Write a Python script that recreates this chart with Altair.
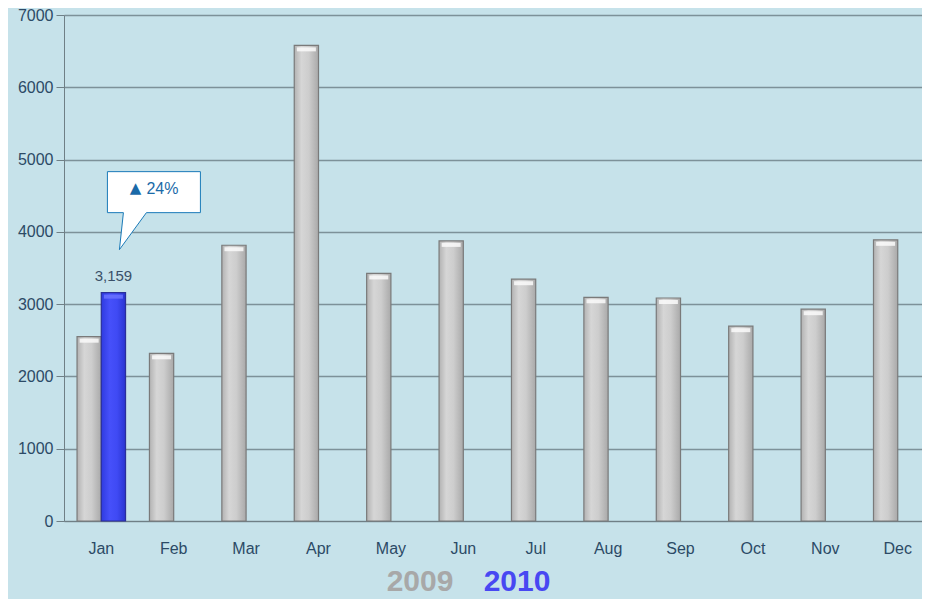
import altair as alt
import pandas as pd

months = ["Jan", "Feb", "Mar", "Apr", "May", "Jun", "Jul", "Aug", "Sep", "Oct", "Nov", "Dec"]
values_2009 = [2550, 2320, 3815, 6580, 3425, 3875, 3345, 3095, 3085, 2695, 2930, 3890]
months_2010 = ["Jan"]
values_2010 = [3159]
change_arrow = "▲"
change_label = "24%"
value_label = "3,159"
legend_years = ["2009", "2010"]
legend_colors = ["#a8a8a8", "#4848f2"]

df09 = pd.DataFrame({"month": months, "value": values_2009, "year": "2009"})
df10 = pd.DataFrame({"month": months_2010, "value": values_2010, "year": "2010",
                     "label": [value_label], "arrow": [change_arrow], "change": [change_label]})
legend_df = pd.DataFrame({"year": legend_years, "color": legend_colors})

FONT = "Liberation Sans, Arial, DejaVu Sans"
BG = "#c6e2ea"
AXIS_TXT = "#2c4a66"

x_enc = alt.X("month:N", sort=months,
              scale=alt.Scale(domain=months, paddingInner=0.33, paddingOuter=0.09, align=1),
              axis=alt.Axis(title=None, labelAngle=0, ticks=False, labelPadding=19, grid=False,
                            domain=True, domainColor="#6f7f86", labelColor=AXIS_TXT,
                            labelFontSize=16, labelFont=FONT))
xo_enc = alt.XOffset("year:N", scale=alt.Scale(domain=legend_years, paddingInner=0))
y_enc = alt.Y("value:Q", scale=alt.Scale(domain=[0, 7000], nice=False),
              axis=alt.Axis(title=None, values=[0, 1000, 2000, 3000, 4000, 5000, 6000, 7000],
                            tickSize=8, tickColor="#6f7f86", domainColor="#6f7f86",
                            gridColor="#7d9199", gridWidth=1.3, labelColor=AXIS_TXT,
                            labelFontSize=16, labelFont=FONT, labelPadding=3, format="d"))

gray_grad = {"gradient": "linear", "x1": 0, "x2": 1, "y1": 0, "y2": 0,
             "stops": [{"offset": 0, "color": "#b2b2b2"}, {"offset": 0.3, "color": "#d6d6d6"},
                       {"offset": 0.6, "color": "#cdcdcd"}, {"offset": 1, "color": "#a9a9a9"}]}
blue_grad = {"gradient": "linear", "x1": 0, "x2": 1, "y1": 0, "y2": 0,
             "stops": [{"offset": 0, "color": "#2f3be0"}, {"offset": 0.35, "color": "#4650fa"},
                       {"offset": 0.65, "color": "#3f4af4"}, {"offset": 1, "color": "#2a34d0"}]}

bars09 = alt.Chart(df09).mark_bar(fill=gray_grad, stroke="#7a7a7a", strokeWidth=1.2).encode(
    x=x_enc, xOffset=xo_enc, y=y_enc)
bars10 = alt.Chart(df10).mark_bar(fill=blue_grad, stroke="#2a2f9a", strokeWidth=1.2).encode(
    x=x_enc, xOffset=xo_enc, y=y_enc)

# white highlight caps at bar tops
cap09 = alt.Chart(df09).mark_tick(color="#fafafa", thickness=4, size=19, yOffset=4, opacity=0.85).encode(
    x=x_enc, xOffset=xo_enc, y=y_enc)
cap10 = alt.Chart(df10).mark_tick(color="#6a72ff", thickness=4, size=19, yOffset=4, opacity=0.85).encode(
    x=x_enc, xOffset=xo_enc, y=y_enc)

val_text = alt.Chart(df10).mark_text(dy=-17, fontSize=15, color="#3a5068", font=FONT).encode(
    x=x_enc, xOffset=xo_enc, y=y_enc, text="label:N")

callout_path = "M -6 -121 L 87 -121 L 87 -80 L 33 -80 L 6 -43 L 10 -80 L -6 -80 Z"
callout = alt.Chart(df10).mark_point(shape=callout_path, size=4, filled=True, fill="white",
                                     stroke="#1a7ab8", strokeWidth=1, opacity=1).encode(
    x=x_enc, xOffset=xo_enc, y=y_enc)
arrow_text = alt.Chart(df10).mark_text(dx=22, dy=-105, fontSize=15, color="#1a6aa8",
                                       font="DejaVu Sans").encode(
    x=x_enc, xOffset=xo_enc, y=y_enc, text="arrow:N")
change_text = alt.Chart(df10).mark_text(dx=33, dy=-104, fontSize=16, color="#1a6aa8", align="left",
                                        font=FONT).encode(
    x=x_enc, xOffset=xo_enc, y=y_enc, text="change:N")

legend09 = alt.Chart(legend_df.iloc[[0]]).mark_text(fontSize=30, fontWeight="bold", font=FONT,
                                                   align="center", baseline="middle").encode(
    x=alt.value(356), y=alt.value(567), text="year:N", color=alt.Color("color:N", scale=None))
legend10 = alt.Chart(legend_df.iloc[[1]]).mark_text(fontSize=30, fontWeight="bold", font=FONT,
                                                   align="center", baseline="middle").encode(
    x=alt.value(453), y=alt.value(567), text="year:N", color=alt.Color("color:N", scale=None))

chart = alt.layer(bars09, bars10, cap09, cap10, val_text, callout, arrow_text, change_text,
                  legend09, legend10).properties(
    width=858, height=506,
    autosize=alt.AutoSizeParams(type="none"),
    padding={"left": 56, "top": 7, "right": 0, "bottom": 78},
    background=BG,
).configure_view(stroke=None, fill=BG).configure_axis(labelFont=FONT)

chart.save("out.html", embed_options={"renderer": "svg", "actions": False})
